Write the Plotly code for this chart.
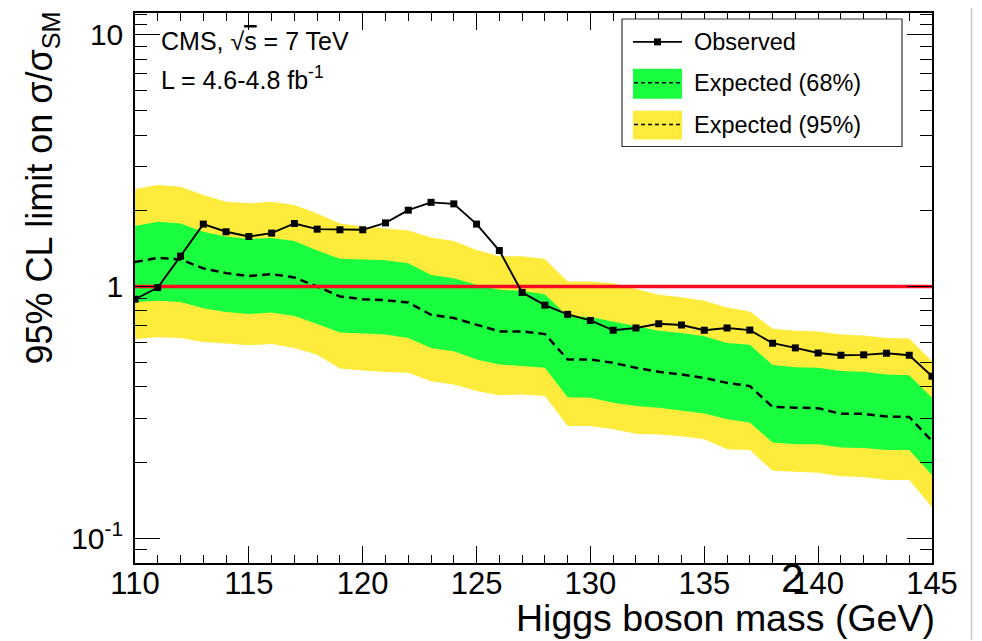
import plotly.graph_objects as go

# ---------------- data ----------------
mass = [110, 111, 112, 113, 114, 115, 116, 117, 118, 119, 120, 121,
        122, 123, 124, 125, 126, 127, 128, 129, 130, 131, 132, 133, 134,
        135, 136, 137, 138, 139, 140, 141, 142, 143, 144, 145]

observed = [0.89, 0.99, 1.32, 1.77, 1.65, 1.58, 1.63, 1.78, 1.69, 1.68, 1.68, 1.79,
            2.01, 2.16, 2.13, 1.77, 1.39, 0.947, 0.843, 0.775, 0.733, 0.67, 0.684, 0.711, 0.703,
            0.67, 0.684, 0.671, 0.595, 0.57, 0.544, 0.533, 0.535, 0.543, 0.533, 0.44]

expected = [1.25, 1.30, 1.28, 1.18, 1.13, 1.10, 1.12, 1.085, 1.0, 0.913, 0.89, 0.882,
            0.864, 0.772, 0.749, 0.705, 0.663, 0.663, 0.647, 0.513, 0.513, 0.497, 0.475, 0.458, 0.447,
            0.433, 0.414, 0.402, 0.332, 0.33, 0.328, 0.312, 0.312, 0.304, 0.303, 0.243]

band68_up = [1.74, 1.81, 1.78, 1.65, 1.58, 1.545, 1.56, 1.517, 1.39, 1.29, 1.28, 1.27,
             1.237, 1.11, 1.079, 1.016, 0.97, 0.961, 0.932, 0.761, 0.757, 0.727, 0.695, 0.667, 0.653,
             0.634, 0.596, 0.587, 0.487, 0.478, 0.475, 0.461, 0.458, 0.447, 0.444, 0.361]

band68_lo = [0.867, 0.878, 0.867, 0.82, 0.791, 0.777, 0.789, 0.763, 0.709, 0.657, 0.65, 0.644,
             0.624, 0.57, 0.553, 0.513, 0.49, 0.482, 0.475, 0.363, 0.361, 0.345, 0.335, 0.33, 0.322,
             0.313, 0.297, 0.288, 0.24, 0.236, 0.236, 0.229, 0.228, 0.224, 0.224, 0.178]

band95_up = [2.44, 2.53, 2.49, 2.31, 2.17, 2.14, 2.17, 2.11, 1.95, 1.78, 1.73, 1.695,
             1.67, 1.567, 1.517, 1.397, 1.32, 1.32, 1.287, 1.047, 1.047, 1.03, 0.979, 0.927, 0.906,
             0.877, 0.826, 0.796, 0.68, 0.667, 0.663, 0.644, 0.638, 0.624, 0.621, 0.505]

band95_lo = [0.619, 0.628, 0.624, 0.602, 0.593, 0.584, 0.591, 0.57, 0.536, 0.472, 0.464, 0.457,
             0.454, 0.42, 0.408, 0.384, 0.37, 0.372, 0.367, 0.279, 0.279, 0.2706, 0.26, 0.258, 0.254,
             0.247, 0.2256, 0.224, 0.185, 0.183, 0.182, 0.176, 0.175, 0.17, 0.17, 0.1325]

x_ticks = [110, 115, 120, 125, 130, 135, 140, 145]
x_tick_labels = ["110", "115", "120", "125", "130", "135", "140", "145"]
y_ticks = [0.1, 1, 10]
y_tick_labels = ["10<sup>-1</sup>", "1", "10"]
y_minor = [0.08, 0.09, 0.2, 0.3, 0.4, 0.5, 0.6, 0.7, 0.8, 0.9,
           2, 3, 4, 5, 6, 7, 8, 9, 11, 12]

sm_reference = 1.0

# ---------------- style ----------------
FONT = "Liberation Sans, Arial, Helvetica, sans-serif"
YELLOW = "#ffeb3c"
GREEN = "#19ff40"
RED = "#ff0a1e"

# page body has an 8px margin: figure is offset by (8, 8) in the window
OFF = 8
W, H = 982 - OFF, 641 - OFF
L, T = 135 - OFF, 11 - OFF
PW, PH = 797, 552
R, B = W - L - PW, H - T - PH


def px(xp):
    """window pixel x -> paper x"""
    return (xp - OFF - L) / PW


def py(yp):
    """window pixel y -> paper y"""
    return (T + PH - (yp - OFF)) / PH


fig = go.Figure()

# 95% band
fig.add_trace(go.Scatter(x=mass, y=band95_lo, mode="lines", line=dict(width=0, color=YELLOW),
                         showlegend=False, hoverinfo="skip"))
fig.add_trace(go.Scatter(x=mass, y=band95_up, mode="lines", line=dict(width=0, color=YELLOW),
                         fill="tonexty", fillcolor=YELLOW, showlegend=False, hoverinfo="skip"))
# 68% band
fig.add_trace(go.Scatter(x=mass, y=band68_lo, mode="lines", line=dict(width=0, color=GREEN),
                         showlegend=False, hoverinfo="skip"))
fig.add_trace(go.Scatter(x=mass, y=band68_up, mode="lines", line=dict(width=0, color=GREEN),
                         fill="tonexty", fillcolor=GREEN, showlegend=False, hoverinfo="skip"))
# expected median
fig.add_trace(go.Scatter(x=mass, y=expected, mode="lines",
                         line=dict(color="black", width=2.5, dash="8px,5px"), showlegend=False))
# SM line
fig.add_trace(go.Scatter(x=[mass[0], mass[-1]], y=[sm_reference, sm_reference], mode="lines",
                         line=dict(color=RED, width=3.5), showlegend=False))
# observed
fig.add_trace(go.Scatter(x=mass, y=observed, mode="lines+markers",
                         line=dict(color="black", width=1.9),
                         marker=dict(symbol="square", size=7, color="black"), showlegend=False))

shapes = []
annotations = []

# custom legend
shapes.append(dict(type="rect", xref="paper", yref="paper",
                   x0=px(622), x1=px(902), y0=py(145), y1=py(17),
                   line=dict(color="#333333", width=1.2), fillcolor="white", layer="above"))
# observed entry
shapes.append(dict(type="line", xref="paper", yref="paper", x0=px(633), x1=px(682),
                   y0=py(40), y1=py(40), line=dict(color="black", width=1.8), layer="above"))
shapes.append(dict(type="rect", xref="paper", yref="paper", x0=px(654), x1=px(661),
                   y0=py(43.5), y1=py(36.5), line=dict(width=0), fillcolor="black", layer="above"))
# green entry
shapes.append(dict(type="rect", xref="paper", yref="paper", x0=px(633), x1=px(682),
                   y0=py(97), y1=py(67), line=dict(width=0), fillcolor=GREEN, layer="above"))
shapes.append(dict(type="line", xref="paper", yref="paper", x0=px(634), x1=px(682),
                   y0=py(81), y1=py(81), line=dict(color="black", width=1.5, dash="4px,3px"),
                   layer="above"))
# yellow entry
shapes.append(dict(type="rect", xref="paper", yref="paper", x0=px(633), x1=px(682),
                   y0=py(138), y1=py(109), line=dict(width=0), fillcolor=YELLOW, layer="above"))
shapes.append(dict(type="line", xref="paper", yref="paper", x0=px(634), x1=px(682),
                   y0=py(123), y1=py(123), line=dict(color="black", width=1.5, dash="4px,3px"),
                   layer="above"))
# gray page edge line on the right
shapes.append(dict(type="line", xref="paper", yref="paper", x0=px(971.5), x1=px(971.5),
                   y0=py(640), y1=py(2), line=dict(color="#c8c8c8", width=1.5)))

for label, yc in [("Observed", 40), ("Expected (68%)", 81), ("Expected (95%)", 123)]:
    annotations.append(dict(text=label, xref="paper", yref="paper", x=px(692), y=py(yc),
                            xanchor="left", yanchor="middle", showarrow=False,
                            font=dict(family=FONT, size=23.5, color="black")))

annotations.append(dict(text="CMS, √<span style='text-decoration:overline'>s</span> = 7 TeV",
                        xref="paper", yref="paper", x=px(159), y=py(39),
                        xanchor="left", yanchor="middle", showarrow=False,
                        font=dict(family=FONT, size=25, color="black")))
annotations.append(dict(text="L = 4.6-4.8 fb<sup>-1</sup>",
                        xref="paper", yref="paper", x=px(159), y=py(76),
                        xanchor="left", yanchor="middle", showarrow=False,
                        font=dict(family=FONT, size=25, color="black")))

# axis titles
annotations.append(dict(text="Higgs boson mass (GeV)", xref="paper", yref="paper",
                        x=px(937), y=py(618), xanchor="right", yanchor="middle",
                        showarrow=False, font=dict(family=FONT, size=37.5, color="black")))
annotations.append(dict(text="95% CL limit on σ/σ<sub>SM</sub>", xref="paper", yref="paper",
                        x=px(42), y=py(8), xanchor="center", yanchor="top", textangle=-90,
                        showarrow=False, font=dict(family=FONT, size=36, color="black")))
# stray glyph in the reference
annotations.append(dict(text="2", xref="paper", yref="paper", x=px(792), y=py(578),
                        xanchor="center", yanchor="middle", showarrow=False,
                        font=dict(family=FONT, size=41, color="black")))

fig.update_layout(
    width=W, height=H,
    margin=dict(l=L, r=R, t=T, b=B, pad=0),
    paper_bgcolor="white", plot_bgcolor="white",
    font=dict(family=FONT, color="black"),
    shapes=shapes, annotations=annotations,
    showlegend=False,
)

fig.update_xaxes(
    range=[110, 145], tickmode="array", tickvals=x_ticks, ticktext=x_tick_labels,
    ticks="inside", ticklen=17, tickwidth=1.2, tickcolor="black",
    minor=dict(dtick=1, tick0=110, ticks="inside", ticklen=8, tickwidth=1.2, tickcolor="black", showgrid=False),
    showline=True, linecolor="black", linewidth=1.5, mirror="ticks",
    showgrid=False, zeroline=False,
    tickfont=dict(family=FONT, size=31, color="black"), ticklabelstandoff=-8,
)
fig.update_yaxes(
    type="log", range=[-1.099, 1.087], tickmode="array", tickvals=y_ticks, ticktext=y_tick_labels,
    ticks="inside", ticklen=25, tickwidth=1.2, tickcolor="black",
    minor=dict(tickmode="array", tickvals=y_minor, ticks="inside", ticklen=12, tickwidth=1.2,
               tickcolor="black", showgrid=False),
    showline=True, linecolor="black", linewidth=1.5, mirror="ticks",
    showgrid=False, zeroline=False,
    tickfont=dict(family=FONT, size=30, color="black"), ticklabelstandoff=4,
)

fig.write_html("out.html")
